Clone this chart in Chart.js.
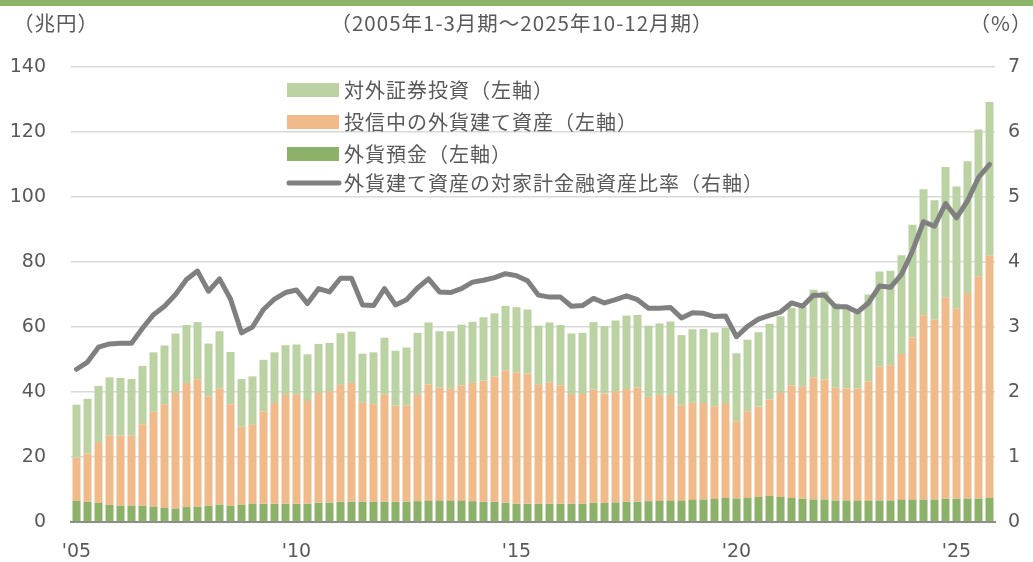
<!DOCTYPE html>
<html>
<head>
<meta charset="utf-8">
<script src="https://cdn.jsdelivr.net/npm/chart.js@4.4.1/dist/chart.umd.min.js"></script>
<style>
  html, body { margin: 0; padding: 0; background: #ffffff; }
  #wrap { position: relative; width: 1033px; height: 562px; }
  #topbar { position: absolute; left: 0; top: 0; width: 1033px; height: 6px; background: #8db46b; }
  canvas { position: absolute; left: 0; top: 0; }
</style>
</head>
<body>
<div id="wrap">
  <canvas id="c" width="1033" height="562"></canvas>
  <div id="topbar"></div>
</div>
<script>
// ---- Data (quarterly, 2005 Q1 .. 2025 Q4) ----
const years = [2005,2006,2007,2008,2009,2010,2011,2012,2013,2014,2015,2016,2017,2018,2019,2020,2021,2022,2023,2024,2025];
const quarters = ["1-3","4-6","7-9","10-12"];
const categories = [];
years.forEach(y => quarters.forEach(q => categories.push(y + "年" + q + "月期")));

// tick labels shown on the x axis (category index -> label)
const tickIndex  = [0, 20, 40, 60, 80];
const tickLabels = ["'05", "'10", "'15", "'20", "'25"];

// 外貨預金 (兆円)
const deposits = [
  6.5, 6.2, 5.9, 5.3, 5.0, 5.0, 5.0, 4.7, 4.3, 4.1, 4.6, 4.7,
  5.0, 5.3, 5.0, 5.3, 5.6, 5.6, 5.6, 5.6, 5.6, 5.6, 5.9, 5.9,
  6.2, 6.2, 6.2, 6.2, 6.2, 6.2, 6.2, 6.4, 6.5, 6.5, 6.5, 6.5,
  6.4, 6.2, 6.2, 5.9, 5.6, 5.6, 5.6, 5.6, 5.6, 5.6, 5.6, 5.9,
  5.9, 6.0, 6.2, 6.2, 6.4, 6.5, 6.5, 6.5, 6.8, 6.9, 7.1, 7.4,
  7.2, 7.4, 7.7, 8.0, 7.7, 7.4, 7.2, 6.9, 6.9, 6.6, 6.6, 6.5,
  6.5, 6.6, 6.6, 6.8, 6.8, 6.9, 6.9, 7.2, 7.2, 7.2, 7.2, 7.4
];
// 投信中の外貨建て資産 (兆円)
const trusts = [
  13.3, 14.9, 18.7, 21.3, 21.6, 21.6, 25.1, 29.2, 31.9, 35.6, 38.2, 39.2,
  33.6, 35.8, 31.2, 24.0, 24.3, 28.5, 31.0, 33.5, 33.6, 31.6, 33.8, 34.3,
  36.0, 36.6, 30.5, 30.0, 33.0, 29.6, 29.7, 32.7, 35.9, 34.9, 34.5, 35.5,
  36.4, 37.3, 38.5, 40.8, 40.4, 40.1, 36.6, 37.4, 36.5, 33.8, 33.8, 34.8,
  33.6, 34.2, 34.7, 35.2, 32.1, 32.6, 32.6, 29.4, 29.9, 29.7, 28.5, 29.2,
  23.8, 26.7, 27.8, 29.7, 32.0, 34.7, 34.4, 37.6, 36.9, 34.7, 34.5, 34.6,
  36.7, 41.2, 41.6, 44.9, 50.0, 56.7, 55.3, 61.8, 58.4, 63.3, 68.4, 74.5
];
// 対外証券投資 (兆円)
const securities = [
  16.3, 16.8, 17.3, 17.9, 17.7, 17.4, 17.9, 18.3, 18.1, 18.3, 17.8, 17.6,
  16.3, 17.6, 16.1, 14.7, 14.9, 15.8, 15.6, 15.3, 15.4, 14.4, 15.1, 14.9,
  15.9, 15.8, 15.1, 16.0, 17.5, 16.9, 17.8, 19.1, 19.0, 17.3, 17.7, 18.7,
  18.8, 19.5, 19.5, 19.8, 20.1, 19.7, 18.2, 18.4, 18.5, 18.6, 18.8, 20.8,
  20.7, 21.8, 22.6, 22.3, 21.9, 22.0, 22.6, 21.6, 22.6, 22.8, 22.7, 23.2,
  20.9, 22.0, 22.9, 23.3, 23.6, 23.8, 24.6, 27.0, 27.1, 26.0, 25.6, 23.7,
  26.8, 29.3, 29.1, 30.4, 34.7, 38.8, 36.8, 40.2, 37.6, 40.5, 45.2, 47.3
];
// 外貨建て資産の対家計金融資産比率 (%)
const ratio = [
  2.35, 2.46, 2.69, 2.74, 2.75, 2.75, 2.98, 3.19, 3.32, 3.50, 3.73, 3.86,
  3.55, 3.74, 3.43, 2.91, 3.00, 3.27, 3.43, 3.53, 3.57, 3.36, 3.59, 3.54,
  3.75, 3.75, 3.34, 3.33, 3.59, 3.34, 3.42, 3.60, 3.74, 3.54, 3.53, 3.59,
  3.69, 3.72, 3.76, 3.82, 3.79, 3.71, 3.49, 3.46, 3.46, 3.32, 3.33, 3.44,
  3.37, 3.42, 3.48, 3.42, 3.29, 3.29, 3.30, 3.14, 3.22, 3.21, 3.16, 3.17,
  2.85, 3.01, 3.12, 3.18, 3.23, 3.37, 3.32, 3.49, 3.49, 3.31, 3.31, 3.23,
  3.37, 3.63, 3.61, 3.81, 4.17, 4.62, 4.55, 4.90, 4.68, 4.94, 5.30, 5.50
];

const seriesNames = {
  securities: "対外証券投資（左軸）",
  trusts: "投信中の外貨建て資産（左軸）",
  deposits: "外貨預金（左軸）",
  ratio: "外貨建て資産の対家計金融資産比率（右軸）"
};
const headLeft = "（兆円）";
const headCenter = "（2005年1-3月期～2025年10-12月期）";
const headRight = "（%）";

// ---- Styles ----
const C_SEC = "#bbd2a3";
const C_TRU = "#f0ba8b";
const C_DEP = "#8cb26a";
const C_LINE = "#808080";
const TXT = "#595959";
const NUMFONT = "'DejaVu Sans', Verdana, sans-serif";
const CJKFONT = "'Noto Sans CJK JP', 'Noto Sans', sans-serif";

const overlay = {
  id: "overlay",
  afterDraw(chart) {
    const ctx = chart.ctx;
    ctx.save();
    // header texts
    ctx.fillStyle = TXT;
    ctx.font = "20.5px " + CJKFONT;
    ctx.textBaseline = "middle";
    ctx.textAlign = "center";
    try { ctx.letterSpacing = "1px"; } catch (e) {}
    ctx.fillText(headLeft, 56, 23);
    ctx.fillText(headCenter, 522, 23);
    ctx.fillText(headRight, 1001, 23);

    // legend
    const lx = 287, bw = 52, tx = 344;
    const rows = [
      { type: "box", color: C_SEC, label: seriesNames.securities, y: 90 },
      { type: "box", color: C_TRU, label: seriesNames.trusts, y: 122 },
      { type: "box", color: C_DEP, label: seriesNames.deposits, y: 154 },
      { type: "line", color: C_LINE, label: seriesNames.ratio, y: 183 }
    ];
    ctx.font = "20px " + CJKFONT;
    ctx.textAlign = "left";
    rows.forEach(r => {
      if (r.type === "box") {
        ctx.fillStyle = r.color;
        ctx.fillRect(lx, r.y - 7, bw, 14);
      } else {
        ctx.strokeStyle = r.color;
        ctx.lineWidth = 5;
        ctx.lineCap = "round";
        ctx.beginPath();
        ctx.moveTo(lx + 2, r.y);
        ctx.lineTo(lx + bw, r.y);
        ctx.stroke();
      }
      ctx.fillStyle = TXT;
      ctx.fillText(r.label, tx, r.y);
    });
    ctx.restore();
  }
};

const chart = new Chart(document.getElementById("c"), {
  data: {
    labels: categories,
    datasets: [
      { type: "line", label: seriesNames.ratio, data: ratio, yAxisID: "y2",
        borderColor: C_LINE, borderWidth: 5, pointRadius: 0, tension: 0,
        borderJoinStyle: "round", borderCapStyle: "round", order: 0 },
      { type: "bar", label: seriesNames.deposits, data: deposits, yAxisID: "y",
        backgroundColor: C_DEP, stack: "s", order: 1,
        barPercentage: 0.73, categoryPercentage: 1.0 },
      { type: "bar", label: seriesNames.trusts, data: trusts, yAxisID: "y",
        backgroundColor: C_TRU, stack: "s", order: 1,
        barPercentage: 0.73, categoryPercentage: 1.0 },
      { type: "bar", label: seriesNames.securities, data: securities, yAxisID: "y",
        backgroundColor: C_SEC, stack: "s", order: 1,
        barPercentage: 0.73, categoryPercentage: 1.0 }
    ]
  },
  options: {
    responsive: false,
    animation: false,
    layout: { padding: { top: 67, left: 0, right: 0, bottom: 0 } },
    plugins: { legend: { display: false }, tooltip: { enabled: false } },
    scales: {
      x: {
        stacked: true,
        grid: { display: false, drawTicks: false },
        border: { display: true, color: "#8c8c8c", width: 2 },
        ticks: {
          autoSkip: false, maxRotation: 0, padding: 19,
          color: TXT, font: { family: NUMFONT, size: 19 },
          callback: function(v, i) {
            const k = tickIndex.indexOf(i);
            return k >= 0 ? tickLabels[k] : "";
          }
        },
        afterFit(a) { a.height = 40; }
      },
      y: {
        stacked: true, position: "left", min: 0, max: 140,
        grid: { color: "#d9d9d9", lineWidth: 1.5, drawTicks: false },
        border: { display: false },
        ticks: { stepSize: 20, padding: 25, color: TXT, font: { family: NUMFONT, size: 19 } },
        afterFit(a) { a.width = 71; }
      },
      y2: {
        position: "right", min: 0, max: 7,
        grid: { display: false, drawTicks: false },
        border: { display: false },
        ticks: { stepSize: 1, padding: 13, color: TXT, font: { family: NUMFONT, size: 19 } },
        afterFit(a) { a.width = 38; }
      }
    }
  },
  plugins: [overlay]
});
</script>
</body>
</html>
